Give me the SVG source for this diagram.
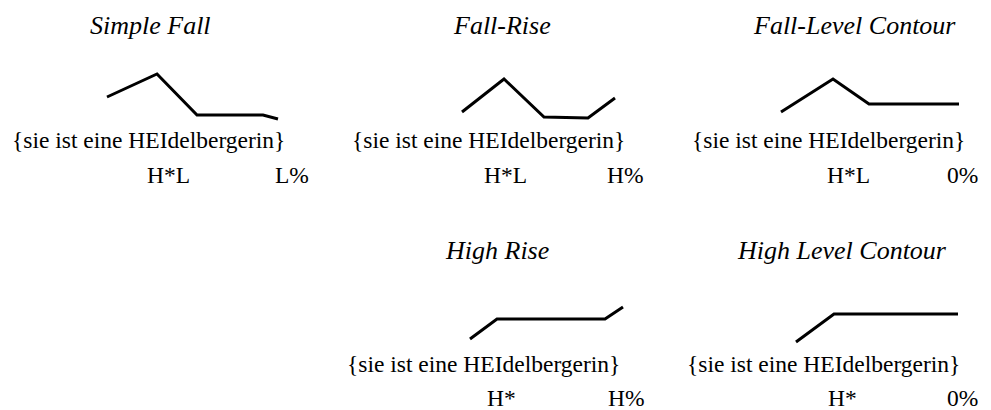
<svg xmlns="http://www.w3.org/2000/svg" width="991" height="410" viewBox="0 0 991 410">
<style>
.t{font-family:"Liberation Serif","Times New Roman",serif;font-style:italic;font-size:26px;fill:#000}
.s{font-family:"Liberation Serif","Times New Roman",serif;font-size:23.5px;fill:#000}
.c{fill:none;stroke:#000;stroke-width:3;stroke-linejoin:miter;stroke-linecap:butt}
</style>
<rect width="991" height="410" fill="#fff"/>
<g id="simple-fall">
<text class="t" x="90" y="34">Simple Fall</text>
<polyline class="c" points="107,97 157,74 197,115 263,115 278,119"/>
<text class="s" x="12" y="148">{sie ist eine HEIdelbergerin}</text>
<text class="s" x="147" y="183">H*L</text>
<text class="s" x="275" y="183">L%</text>
</g>
<g id="fall-rise">
<text class="t" x="454" y="34">Fall-Rise</text>
<polyline class="c" points="462,112 504,79 544,117 588,118 615,98"/>
<text class="s" x="352" y="148">{sie ist eine HEIdelbergerin}</text>
<text class="s" x="484" y="183">H*L</text>
<text class="s" x="607" y="183">H%</text>
</g>
<g id="fall-level">
<text class="t" x="754" y="34">Fall-Level Contour</text>
<polyline class="c" points="781,112 833,79 869,104 959,104"/>
<text class="s" x="692" y="148">{sie ist eine HEIdelbergerin}</text>
<text class="s" x="827" y="183">H*L</text>
<text class="s" x="947" y="183">0%</text>
</g>
<g id="high-rise">
<text class="t" x="446" y="259">High Rise</text>
<polyline class="c" points="470,339 497,319 605,319 623,307"/>
<text class="s" x="347" y="372">{sie ist eine HEIdelbergerin}</text>
<text class="s" x="487" y="406">H*</text>
<text class="s" x="608" y="406">H%</text>
</g>
<g id="high-level">
<text class="t" x="738" y="259">High Level Contour</text>
<polyline class="c" points="796,342 834,314 958,314"/>
<text class="s" x="687" y="372">{sie ist eine HEIdelbergerin}</text>
<text class="s" x="828" y="406">H*</text>
<text class="s" x="947" y="406">0%</text>
</g>
<g id="connectors"></g>
</svg>
